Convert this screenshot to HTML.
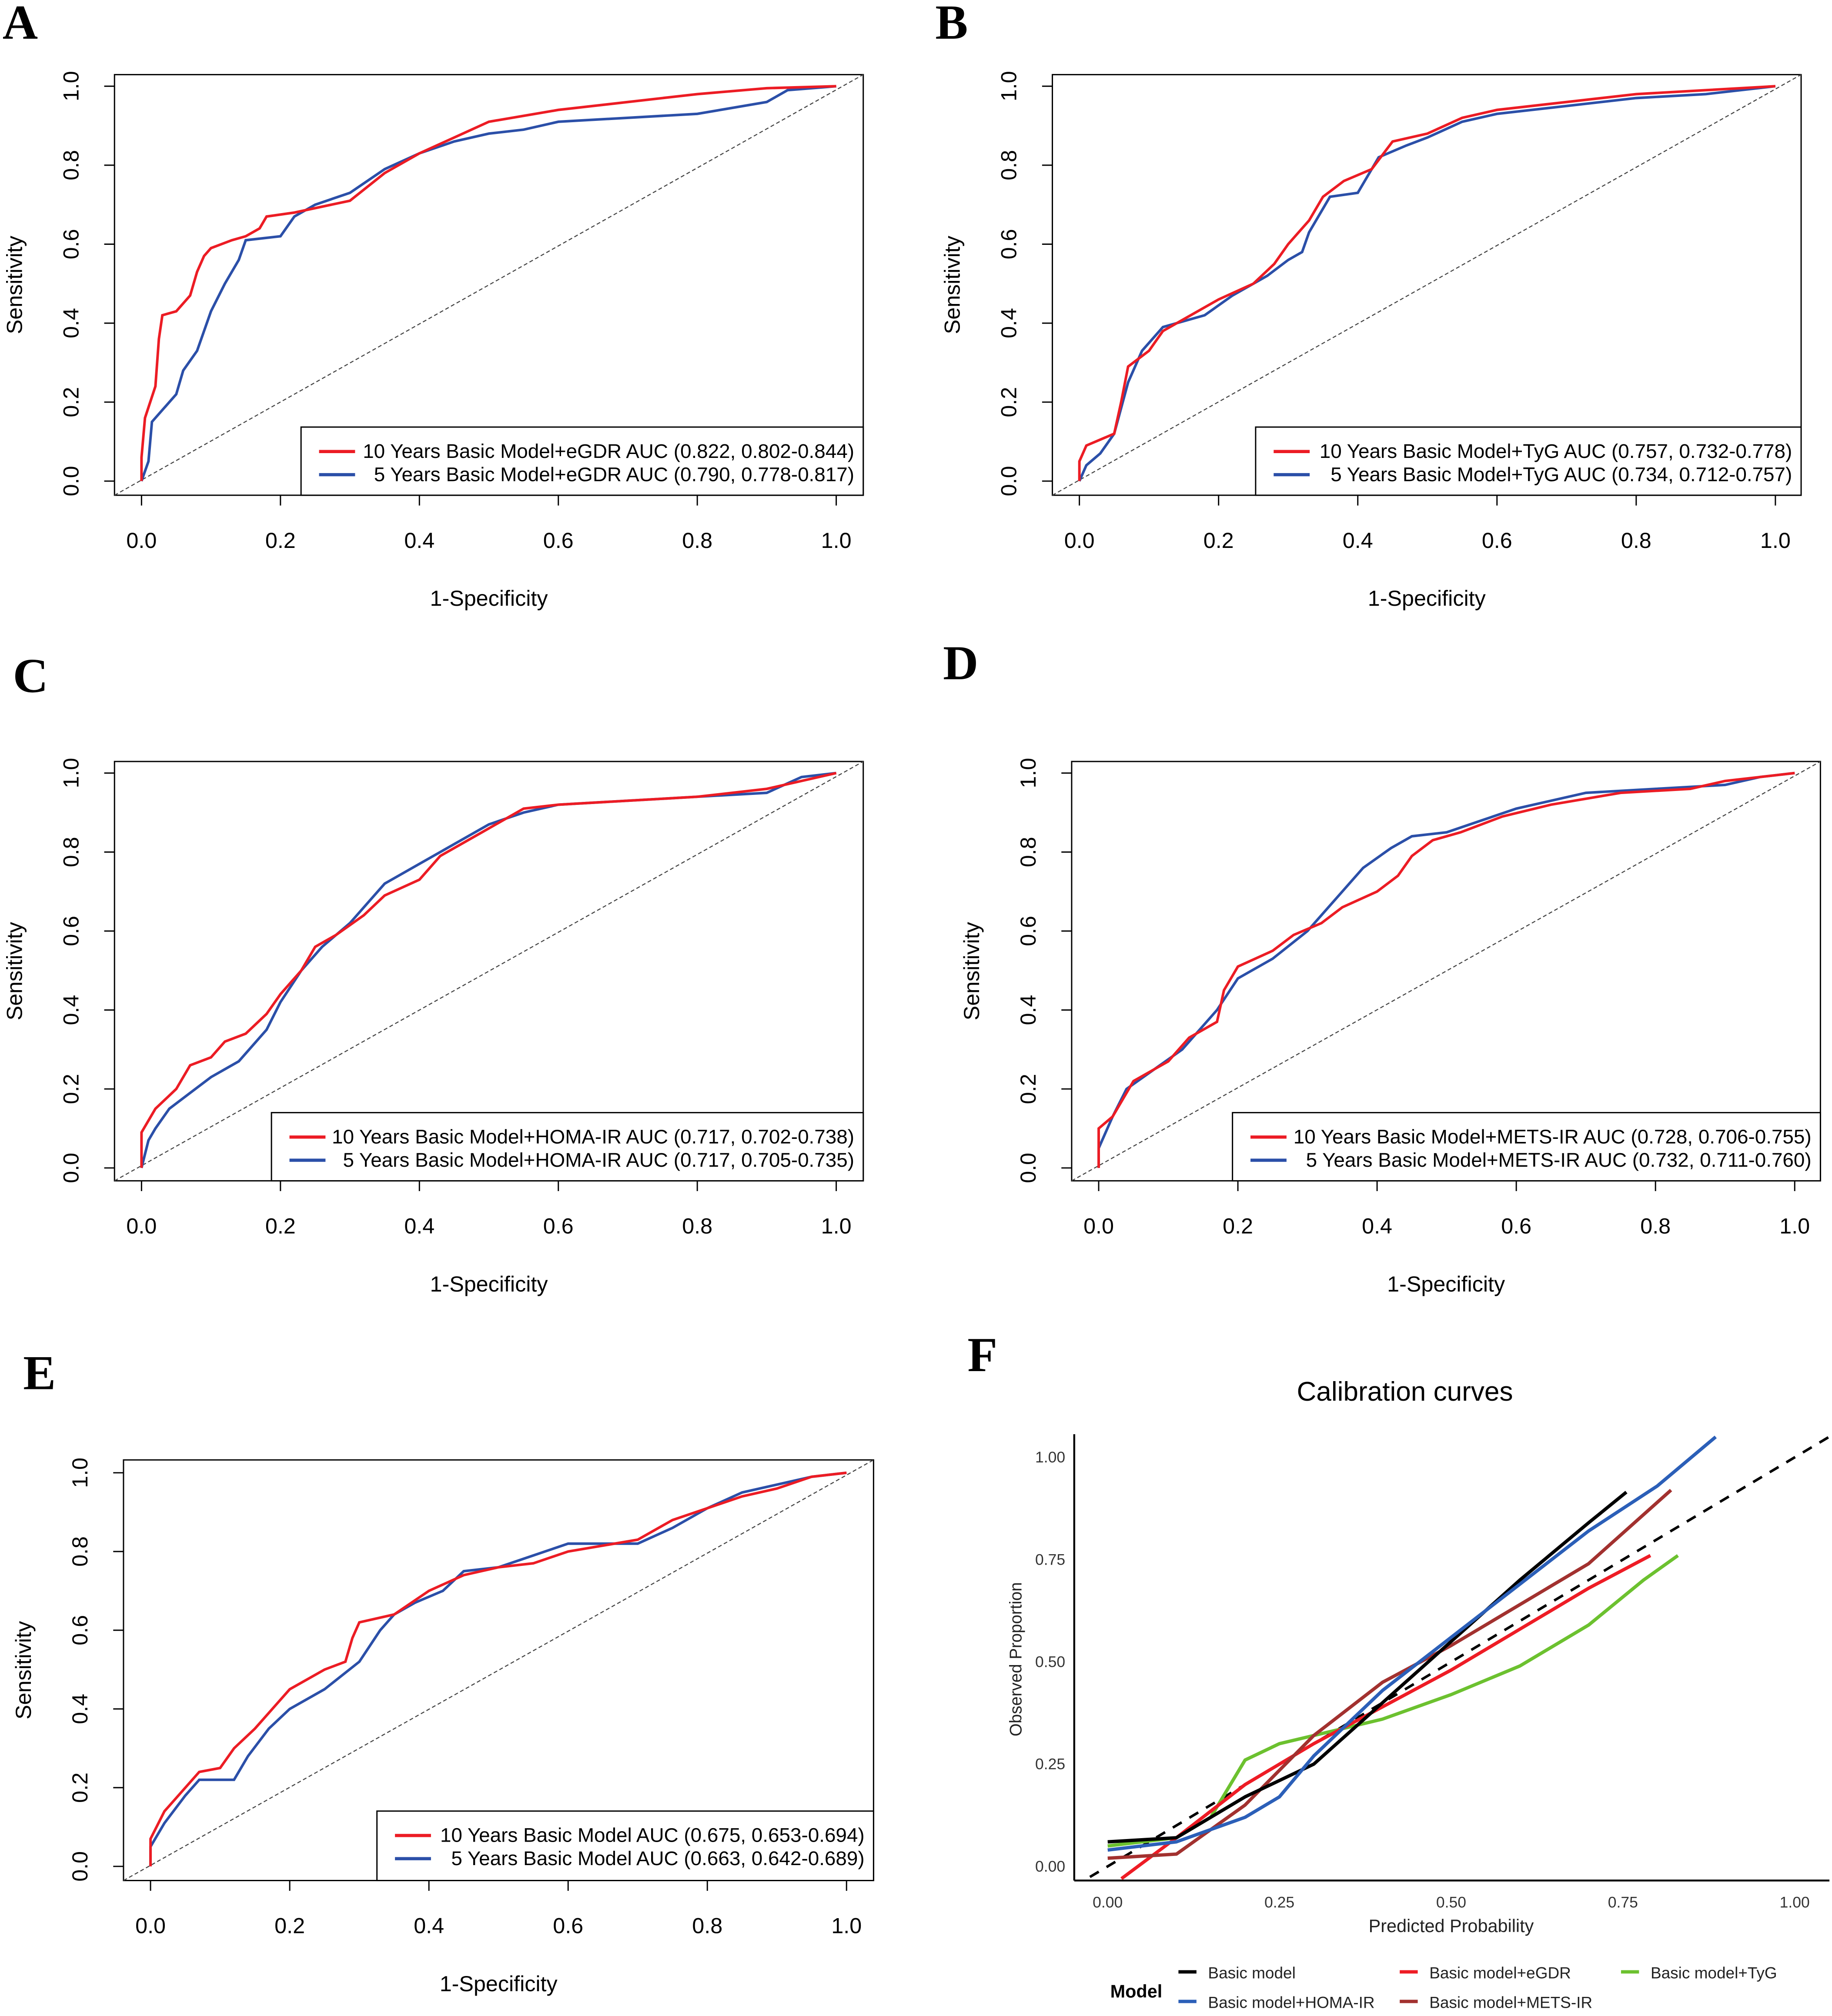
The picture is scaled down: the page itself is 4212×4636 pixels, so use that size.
<!DOCTYPE html>
<html><head><meta charset="utf-8"><style>
html,body{margin:0;padding:0;background:#fff}
svg{display:block}
text{font-family:"Liberation Sans",Arial,sans-serif}
</style></head><body>
<svg id="fig" xmlns="http://www.w3.org/2000/svg" width="4212" height="4636" viewBox="0 0 1424 1567.3"></svg>
<script>
const NS='http://www.w3.org/2000/svg';
const svg=document.getElementById('fig');
// ---- data ----
const aRed=[[0,0],[0,0.06],[0.005,0.16],[0.02,0.24],[0.025,0.36],[0.03,0.42],[0.05,0.43],[0.07,0.47],[0.08,0.53],[0.09,0.57],[0.1,0.59],[0.13,0.61],[0.15,0.62],[0.17,0.64],[0.18,0.67],[0.22,0.68],[0.3,0.71],[0.35,0.78],[0.4,0.83],[0.45,0.87],[0.5,0.91],[0.6,0.94],[0.7,0.96],[0.8,0.98],[0.9,0.995],[1,1]];
const aBlue=[[0,0],[0.01,0.05],[0.015,0.15],[0.03,0.18],[0.05,0.22],[0.06,0.28],[0.08,0.33],[0.1,0.43],[0.12,0.5],[0.14,0.56],[0.15,0.61],[0.2,0.62],[0.22,0.67],[0.25,0.7],[0.3,0.73],[0.35,0.79],[0.4,0.83],[0.45,0.86],[0.5,0.88],[0.55,0.89],[0.6,0.91],[0.7,0.92],[0.8,0.93],[0.9,0.96],[0.93,0.99],[1,1]];
const bRed=[[0,0],[0,0.05],[0.01,0.09],[0.05,0.12],[0.06,0.2],[0.07,0.29],[0.1,0.33],[0.12,0.38],[0.15,0.41],[0.2,0.46],[0.25,0.5],[0.28,0.55],[0.3,0.6],[0.33,0.66],[0.35,0.72],[0.38,0.76],[0.42,0.79],[0.45,0.86],[0.5,0.88],[0.55,0.92],[0.6,0.94],[0.7,0.96],[0.8,0.98],[0.9,0.99],[1,1]];
const bBlue=[[0,0],[0.01,0.04],[0.03,0.07],[0.05,0.12],[0.07,0.25],[0.09,0.33],[0.12,0.39],[0.18,0.42],[0.22,0.47],[0.27,0.52],[0.3,0.56],[0.32,0.58],[0.33,0.63],[0.36,0.72],[0.4,0.73],[0.43,0.82],[0.47,0.85],[0.5,0.87],[0.55,0.91],[0.6,0.93],[0.7,0.95],[0.8,0.97],[0.9,0.98],[1,1]];
const cRed=[[0,0],[0,0.09],[0.02,0.15],[0.05,0.2],[0.07,0.26],[0.1,0.28],[0.12,0.32],[0.15,0.34],[0.18,0.39],[0.2,0.44],[0.23,0.5],[0.25,0.56],[0.28,0.59],[0.32,0.64],[0.35,0.69],[0.4,0.73],[0.43,0.79],[0.47,0.83],[0.5,0.86],[0.55,0.91],[0.6,0.92],[0.7,0.93],[0.8,0.94],[0.9,0.96],[0.95,0.98],[1,1]];
const cBlue=[[0,0],[0.01,0.07],[0.02,0.1],[0.04,0.15],[0.07,0.19],[0.1,0.23],[0.14,0.27],[0.18,0.35],[0.2,0.42],[0.23,0.5],[0.26,0.56],[0.3,0.62],[0.35,0.72],[0.4,0.77],[0.45,0.82],[0.5,0.87],[0.55,0.9],[0.6,0.92],[0.7,0.93],[0.8,0.94],[0.9,0.95],[0.95,0.99],[1,1]];
const dRed=[[0,0],[0,0.1],[0.02,0.13],[0.05,0.22],[0.1,0.27],[0.13,0.33],[0.17,0.37],[0.18,0.45],[0.2,0.51],[0.25,0.55],[0.28,0.59],[0.32,0.62],[0.35,0.66],[0.4,0.7],[0.43,0.74],[0.45,0.79],[0.48,0.83],[0.52,0.85],[0.58,0.89],[0.65,0.92],[0.75,0.95],[0.85,0.96],[0.9,0.98],[1,1]];
const dBlue=[[0,0],[0,0.05],[0.02,0.13],[0.04,0.2],[0.08,0.25],[0.12,0.3],[0.15,0.36],[0.17,0.4],[0.2,0.48],[0.25,0.53],[0.3,0.6],[0.35,0.7],[0.38,0.76],[0.42,0.81],[0.45,0.84],[0.5,0.85],[0.55,0.88],[0.6,0.91],[0.7,0.95],[0.8,0.96],[0.9,0.97],[0.95,0.99],[1,1]];
const eRed=[[0,0],[0,0.07],[0.02,0.14],[0.05,0.2],[0.07,0.24],[0.1,0.25],[0.12,0.3],[0.15,0.35],[0.2,0.45],[0.25,0.5],[0.28,0.52],[0.29,0.58],[0.3,0.62],[0.35,0.64],[0.4,0.7],[0.45,0.74],[0.5,0.76],[0.55,0.77],[0.6,0.8],[0.7,0.83],[0.75,0.88],[0.8,0.91],[0.85,0.94],[0.9,0.96],[0.95,0.99],[1,1]];
const eBlue=[[0,0],[0,0.05],[0.02,0.11],[0.05,0.18],[0.07,0.22],[0.12,0.22],[0.14,0.28],[0.17,0.35],[0.2,0.4],[0.25,0.45],[0.3,0.52],[0.33,0.6],[0.35,0.64],[0.38,0.67],[0.42,0.7],[0.45,0.75],[0.5,0.76],[0.55,0.79],[0.6,0.82],[0.7,0.82],[0.75,0.86],[0.8,0.91],[0.85,0.95],[0.9,0.97],[0.95,0.99],[1,1]];
const rocTicks=['0.0','0.2','0.4','0.6','0.8','1.0'];
const calTicks=['0.00','0.25','0.50','0.75','1.00'];
const calBasic=[[0,0.06],[0.1,0.07],[0.2,0.17],[0.3,0.25],[0.4,0.4],[0.5,0.55],[0.6,0.7],[0.7,0.84],[0.755,0.915]];
const calEGDR=[[0.02,-0.03],[0.1,0.07],[0.2,0.2],[0.3,0.3],[0.4,0.39],[0.5,0.48],[0.6,0.58],[0.7,0.68],[0.79,0.76]];
const calTyG=[[0,0.05],[0.1,0.07],[0.15,0.12],[0.2,0.26],[0.25,0.3],[0.3,0.32],[0.4,0.36],[0.5,0.42],[0.6,0.49],[0.7,0.59],[0.78,0.7],[0.83,0.76]];
const calHOMA=[[0,0.04],[0.1,0.06],[0.2,0.12],[0.25,0.17],[0.3,0.27],[0.35,0.35],[0.4,0.43],[0.5,0.56],[0.6,0.69],[0.7,0.82],[0.8,0.93],[0.885,1.05]];
const calMETS=[[0,0.02],[0.1,0.03],[0.2,0.15],[0.3,0.32],[0.4,0.45],[0.5,0.54],[0.6,0.64],[0.7,0.74],[0.82,0.92]];

function mk(tag,attrs,parent,name,txt){
  const el=document.createElementNS(NS,tag);
  for(const k in attrs) el.setAttribute(k,attrs[k]);
  
  
  if(txt!==undefined) el.textContent=txt;
  (parent||svg).appendChild(el);
  return el;
}
function rocPanel(p){
  const g=mk('g',{},svg,'panel-'+p.id.toLowerCase());
  const sx=v=>p.x0+(p.x1-p.x0)*v, sy=v=>p.y0+(p.y1-p.y0)*v;
  mk('text',{x:p.lx,y:p.ly,'font-size':38,'font-weight':'bold'},g,'panel-letter',p.id).style.fontFamily='"Liberation Serif",serif';
  mk('rect',{x:p.bx0,y:p.by0,width:p.bx1-p.bx0,height:p.by1-p.by0,fill:'none',stroke:'#000','stroke-width':1},g,'plot-frame');
  rocTicks.forEach((t,i)=>{
    const v=i/5;
    mk('line',{x1:sx(v),x2:sx(v),y1:p.by1,y2:p.by1+8,stroke:'#000'},g,'x-tick');
    mk('text',{x:sx(v),y:p.by1+41,'font-size':17,'text-anchor':'middle'},g,'x-tick-label',t);
    mk('line',{x1:p.bx0,x2:p.bx0-8,y1:sy(v),y2:sy(v),stroke:'#000'},g,'y-tick');
    mk('text',{x:0,y:0,'font-size':17,'text-anchor':'middle',transform:`translate(${p.bx0-28},${sy(v)}) rotate(-90)`},g,'y-tick-label',t);
  });
  mk('text',{x:(p.bx0+p.bx1)/2,y:p.by1+86,'font-size':17,'text-anchor':'middle'},g,'x-axis-title','1-Specificity');
  mk('text',{x:0,y:0,'font-size':17,'text-anchor':'middle',transform:`translate(${p.bx0-72},${(p.by0+p.by1)/2}) rotate(-90)`},g,'y-axis-title','Sensitivity');
  mk('line',{x1:p.bx0,y1:p.by1,x2:p.bx1,y2:p.by0,stroke:'#444','stroke-width':0.8,'stroke-dasharray':'3,2'},g,'reference-diagonal');
  const path=(d,c,n)=>mk('polyline',{points:d.map(q=>sx(q[0])+','+sy(q[1])).join(' '),fill:'none',stroke:c,'stroke-width':2},g,n);
  path(p.blue,'#2b4fa8','roc-curve-5-years');
  path(p.red,'#ec1c24','roc-curve-10-years');
  const L=mk('g',{},g,'legend');
  mk('rect',{x:p.gx0,y:p.gy0,width:p.bx1-p.gx0,height:p.by1-p.gy0,fill:'#fff',stroke:'#000'},L,'legend-box');
  mk('line',{x1:p.gx0+14,x2:p.gx0+42,y1:p.gy0+19,y2:p.gy0+19,stroke:'#ec1c24','stroke-width':2.5},L,'legend-swatch-10-years');
  mk('line',{x1:p.gx0+14,x2:p.gx0+42,y1:p.gy0+37,y2:p.gy0+37,stroke:'#2b4fa8','stroke-width':2.5},L,'legend-swatch-5-years');
  mk('text',{x:p.bx1-7,y:p.gy0+24,'font-size':15.5,'text-anchor':'end'},L,'legend-entry-10-years',p.t1);
  mk('text',{x:p.bx1-7,y:p.gy0+42,'font-size':15.5,'text-anchor':'end'},L,'legend-entry-5-years',p.t2);
}
rocPanel({id:'A',lx:2,ly:30,bx0:89,bx1:671,by0:58,by1:385,x0:110,x1:650,y0:374,y1:67,gx0:234,gy0:332,red:aRed,blue:aBlue,
 t1:'10 Years Basic Model+eGDR AUC (0.822, 0.802-0.844)',t2:'5 Years Basic Model+eGDR AUC (0.790, 0.778-0.817)'});
rocPanel({id:'B',lx:727,ly:30,bx0:818,bx1:1400,by0:58,by1:385,x0:839,x1:1380,y0:374,y1:67,gx0:976,gy0:332,red:bRed,blue:bBlue,
 t1:'10 Years Basic Model+TyG AUC (0.757, 0.732-0.778)',t2:'5 Years Basic Model+TyG AUC (0.734, 0.712-0.757)'});
rocPanel({id:'C',lx:10,ly:538,bx0:89,bx1:671,by0:592,by1:918,x0:110,x1:650,y0:908,y1:601,gx0:211,gy0:865,red:cRed,blue:cBlue,
 t1:'10 Years Basic Model+HOMA-IR AUC (0.717, 0.702-0.738)',t2:'5 Years Basic Model+HOMA-IR AUC (0.717, 0.705-0.735)'});
rocPanel({id:'D',lx:733,ly:528,bx0:833,bx1:1415,by0:592,by1:918,x0:854,x1:1395,y0:908,y1:601,gx0:958,gy0:865,red:dRed,blue:dBlue,
 t1:'10 Years Basic Model+METS-IR AUC (0.728, 0.706-0.755)',t2:'5 Years Basic Model+METS-IR AUC (0.732, 0.711-0.760)'});
rocPanel({id:'E',lx:18,ly:1080,bx0:96,bx1:679,by0:1135,by1:1462,x0:117,x1:658,y0:1451,y1:1145,gx0:293,gy0:1408,red:eRed,blue:eBlue,
 t1:'10 Years Basic Model AUC (0.675, 0.653-0.694)',t2:'5 Years Basic Model AUC (0.663, 0.642-0.689)'});

// ---- Panel F ----
(function(){
  const g=mk('g',{},svg,'panel-f');
  const sx=v=>861+534*v, sy=v=>1451-318*v;
  const lt=mk('text',{x:752,y:1066,'font-size':38,'font-weight':'bold'},g,'panel-letter','F');
  lt.style.fontFamily='"Liberation Serif",serif';
  mk('text',{x:1092,y:1089,'font-size':21,'text-anchor':'middle'},g,'chart-title','Calibration curves');
  const clip=mk('clipPath',{id:'fclip'},g,'plot-clip');
  mk('rect',{x:835,y:1113,width:590,height:349},clip,'plot-clip-rect');
  mk('line',{x1:835,x2:835,y1:1115,y2:1462,stroke:'#000','stroke-width':1.5},g,'y-axis-line');
  mk('line',{x1:835,x2:1422,y1:1462,y2:1462,stroke:'#000','stroke-width':1.5},g,'x-axis-line');
  calTicks.forEach((t,i)=>{
    const v=i/4;
    mk('text',{x:sx(v),y:1483,'font-size':12,'text-anchor':'middle',fill:'#333'},g,'x-tick-label',t);
    mk('text',{x:828,y:sy(v)+4,'font-size':12,'text-anchor':'end',fill:'#333'},g,'y-tick-label',t);
  });
  mk('text',{x:1128,y:1502,'font-size':14,'text-anchor':'middle',fill:'#222'},g,'x-axis-title','Predicted Probability');
  mk('text',{x:0,y:0,'font-size':13,'text-anchor':'middle',fill:'#222',transform:'translate(794,1290) rotate(-90)'},g,'y-axis-title','Observed Proportion');
  const cg=mk('g',{'clip-path':'url(#fclip)'},g,'calibration-lines');
  mk('line',{x1:sx(-0.05),y1:sy(-0.05),x2:sx(1.05),y2:sy(1.05),stroke:'#000','stroke-width':2,'stroke-dasharray':'8,7'},cg,'ideal-diagonal');
  const path=(d,c,n)=>mk('polyline',{points:d.map(q=>sx(q[0])+','+sy(q[1])).join(' '),fill:'none',stroke:c,'stroke-width':2.6,'stroke-linejoin':'round'},cg,n);
  path(calTyG,'#6cc12f','line-basic-tyg');
  path(calEGDR,'#ee1c25','line-basic-egdr');
  path(calMETS,'#a2312f','line-basic-mets-ir');
  path(calBasic,'#000','line-basic-model');
  path(calHOMA,'#2b5fb8','line-basic-homa-ir');
  const L=mk('g',{},g,'legend');
  mk('text',{x:863,y:1553,'font-size':14,'font-weight':'bold'},L,'legend-title','Model');
  const ent=[['Basic model','#000',918,1537],['Basic model+eGDR','#ee1c25',1090,1537],['Basic model+TyG','#6cc12f',1262,1537],['Basic model+HOMA-IR','#2b5fb8',918,1560],['Basic model+METS-IR','#a2312f',1090,1560]];
  ent.forEach(e=>{
    mk('line',{x1:e[2]-2,x2:e[2]+12,y1:e[3]-4,y2:e[3]-4,stroke:e[1],'stroke-width':2.6},L,'legend-swatch');
    mk('text',{x:e[2]+21,y:e[3]+1,'font-size':12.5,fill:'#222'},L,'legend-entry',e[0]);
  });
})();
</script>
</body></html>
